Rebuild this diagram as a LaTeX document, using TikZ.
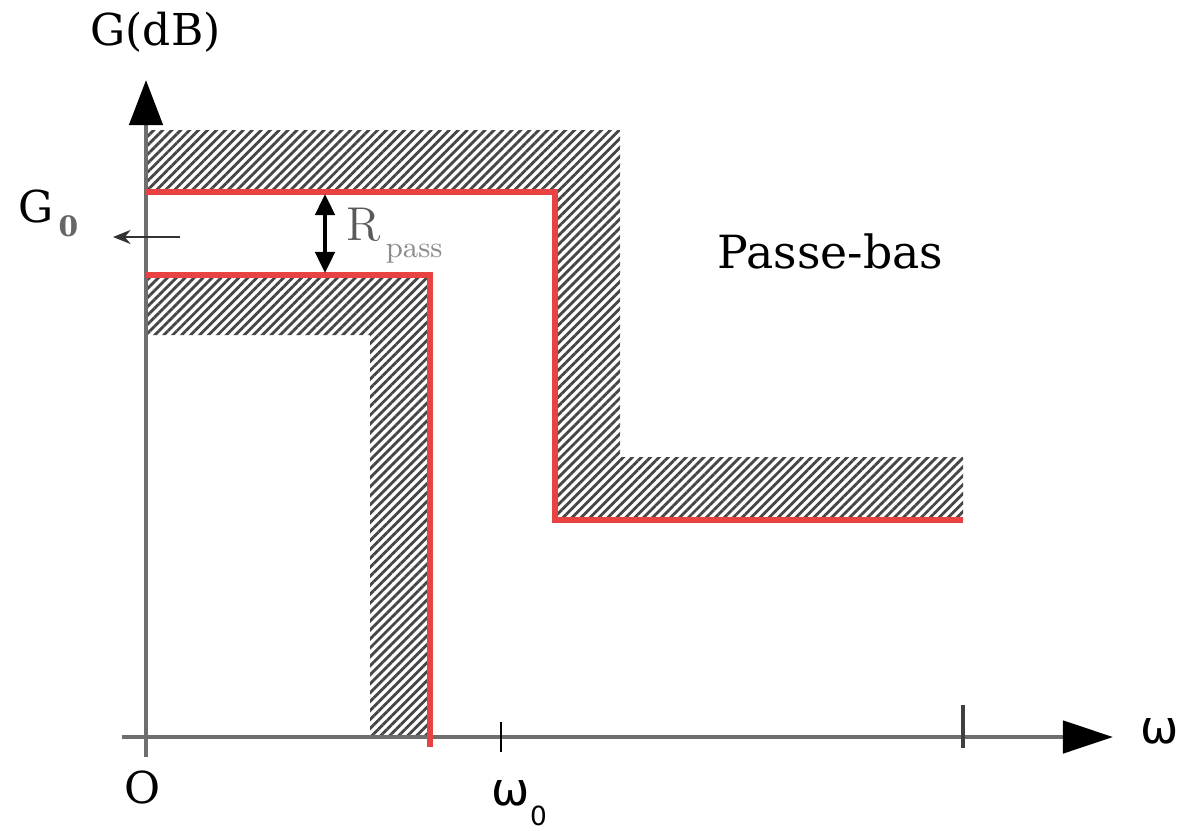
\documentclass[tikz,border=0pt]{standalone}
\usepackage{fontspec}
\newfontfamily\omegafont{DejaVu Sans}
\newfontfamily\labelfont{DejaVu Serif}
\usetikzlibrary{arrows.meta,patterns.meta}

\definecolor{gabarit}{RGB}{232,66,66}
\definecolor{axisgray}{RGB}{110,110,110}
\definecolor{hatchgray}{RGB}{70,70,70}

\tikzset{
    axisline/.style={axisgray, line width=1.3pt},
    redline/.style={gabarit, line width=1.8pt},
    hatched/.style={pattern={Lines[angle=45,distance=1.8pt,line width=0.8pt]}, pattern color=hatchgray},
    serlabel/.style={inner sep=0, font=\labelfont\fontsize{12.5}{15}\selectfont, text=black},
    omlabel/.style={inner sep=0, font=\omegafont\fontsize{13}{15}\selectfont}
}

\begin{document}
\begin{tikzpicture}[x=0.01cm, y=-0.01cm]
        \useasboundingbox[fill=white] (0,0) rectangle (1183,830);

        % Define hatched regions
        \fill[hatched] (146,130) -- (620,130) -- (620,457) -- (963,457) -- (963,520)
            -- (555,520) -- (555,192) -- (146,192) -- cycle;
        \fill[hatched] (146,275) -- (430,275) -- (430,737) -- (370,737) -- (370,335)
            -- (146,335) -- cycle;

        % Define axes
        \coordinate (yfoot) at (146,757);
        \coordinate (ytip) at (146,80);
        \coordinate (xfoot) at (122,737);
        \coordinate (xtip) at (1113,737);
        \draw[axisline, -{Triangle[length=0.45cm,width=0.33cm,color=black]}] (yfoot) -- (ytip);
        \draw[axisline, -{Triangle[length=0.5cm,width=0.32cm,color=black]}] (xfoot) -- (xtip);
        \draw[black!75, line width=1.2pt] (963,705) -- (963,748);
        \draw[black, line width=0.5pt] (501,722) -- (501,752);

        % Red template lines
        \draw[redline] (146,192) -- (555,192) -- (555,520) -- (963,520);
        \draw[redline] (146,275) -- (430,275) -- (430,747);

        % Arrows G0 and Rpass
        \coordinate (gzr) at (180,237);
        \coordinate (gzl) at (113,237);
        \draw[black!80, line width=0.6pt, -{Stealth[length=5pt,width=4pt]}] (gzr) -- (gzl);
        \coordinate (rtop) at (325,194);
        \coordinate (rbot) at (325,273);
        \draw[black, line width=1.1pt, {Triangle[length=6pt,width=5.5pt]}-{Triangle[length=6pt,width=5.5pt]}] (rtop) -- (rbot);

        % Define labels
        \node[serlabel, anchor=base west] (gdb) at (90,45) {G(dB)};
        \node[serlabel, anchor=base west] (gzero) at (18,222) {G\raisebox{-0.14cm}{\fontsize{8}{9}\selectfont\bfseries\color{black!60}\,0}};
        \node[inner sep=0, font=\fontsize{13.5}{16}\selectfont, anchor=base west, text=black!65] (rpass) at (346,240) {R\raisebox{-0.17cm}{\fontsize{8.5}{9}\selectfont\color{black!45}\,pass}};
        \node[serlabel, anchor=base west, font=\labelfont\fontsize{13}{16}\selectfont] (passebas) at (717,268) {Passe-bas};
        \node[serlabel, anchor=base] (origin) at (143,803) {O};
        \node[omlabel, anchor=base west] (omegazero) at (491,805) {ω\raisebox{-0.2cm}{\fontsize{7.5}{8}\selectfont 0}};
        \node[omlabel, anchor=base west] (omega) at (1140,743) {ω};
    \end{tikzpicture}
\end{document}
